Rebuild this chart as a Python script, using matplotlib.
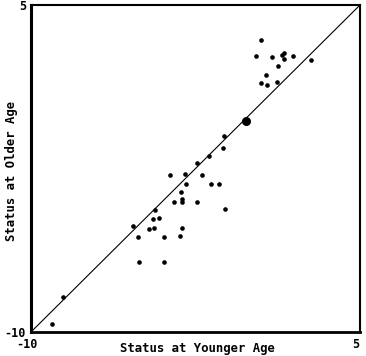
import matplotlib
matplotlib.use("Agg")
import matplotlib.pyplot as plt
from matplotlib.transforms import ScaledTranslation

plt.rcParams['font.family'] = ['DejaVu Sans Mono', 'DejaVu Sans']

younger = [-9.06, -8.54, -5.36, -5.14, -5.09, -4.64, -4.44, -4.39, -4.36, -4.16,
           -3.95, -3.92, -3.65, -3.48, -3.19, -3.18, -3.13, -3.13, -3.10, -2.96,
           -2.92, -2.45, -2.43, -2.22, -1.90, -1.78, -1.44, -1.23, -1.20, -1.17,
           0.26, 0.50, 0.50, 0.71, 0.76, 1.00, 1.23, 1.26, 1.44, 1.52,
           1.55, 1.95, 2.75]
older = [-9.63, -8.41, -5.16, -5.62, -6.79, -5.26, -4.82, -5.22, -4.39, -4.78,
         -5.65, -6.81, -2.78, -4.03, -5.59, -3.60, -3.91, -4.04, -5.23, -2.73,
         -3.20, -2.24, -4.03, -2.79, -1.94, -3.22, -3.19, -1.54, -1.02, -4.38,
         2.65, 3.41, 1.43, 1.79, 1.35, 2.60, 1.47, 2.20, 2.69, 2.78,
         2.51, 2.68, 2.48]
mean_point = [-0.21, -0.30]
axis_range = [-10, 5]
tick_labels = ['-10', '5']
xlabel = 'Status at Younger Age'
ylabel = 'Status at Older Age'

fig = plt.figure(figsize=(3.66, 3.56), dpi=100)
ax = fig.add_axes([31/366, 24/356, 329/366, 327/356])
ax.plot(axis_range, axis_range, color='black', lw=0.8, zorder=1)
ax.scatter(younger, older, s=11, color='black', zorder=2, linewidths=0)
ax.scatter([mean_point[0]], [mean_point[1]], s=42, color='black', zorder=3, linewidths=0)
ax.set_xlim(axis_range)
ax.set_ylim(axis_range)
ax.set_xticks(axis_range)
ax.set_yticks(axis_range)
ax.set_xticklabels(tick_labels, fontsize=8.5, fontweight='bold')
ax.set_yticklabels(tick_labels, fontsize=8.5, fontweight='bold')
ax.tick_params(axis='x', length=0, pad=4.3)
ax.tick_params(axis='y', length=0, pad=3.6)
shift = ScaledTranslation(-4/100, 0, fig.dpi_scale_trans)
for lab in ax.get_xticklabels():
    lab.set_transform(lab.get_transform() + shift)
ax.spines['left'].set_linewidth(2.2)
ax.spines['bottom'].set_linewidth(2.0)
ax.spines['top'].set_linewidth(1.5)
ax.spines['right'].set_linewidth(1.5)
ax.set_xlabel(xlabel, fontsize=8.8, fontweight='bold')
ax.set_ylabel(ylabel, fontsize=8.8, fontweight='bold')
ax.xaxis.set_label_coords(0.506, -0.030)
ax.yaxis.set_label_coords(-0.040, 0.492)
fig.savefig('out.png', dpi=100)
